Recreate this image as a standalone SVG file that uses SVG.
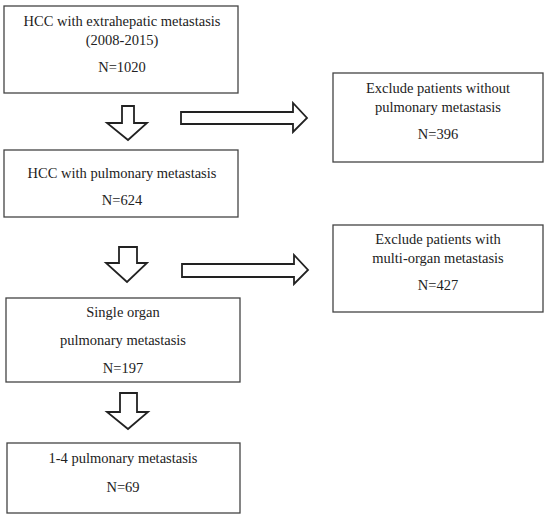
<svg xmlns="http://www.w3.org/2000/svg" width="554" height="530" viewBox="0 0 554 530">
<style>
.box{fill:#fff;stroke:#444;stroke-width:1.3}
.arr{fill:#fff;stroke:#222;stroke-width:1.8;stroke-linejoin:miter}
text{font-family:"Liberation Serif","Times New Roman",serif;font-size:14.5px;fill:#222;text-anchor:middle}
</style>
<rect width="554" height="530" fill="#fff"/>
<g id="connectors">
<path class="arr" d="M122,106 H134 V123 H147 L128,140 L107,123 H122 Z"/>
<path class="arr" d="M181,112 H293 V103 L307,118 L293,132 V124 H181 Z"/>
<path class="arr" d="M119,247 H137 V263 H147 L127,282 L106,263 H119 Z"/>
<path class="arr" d="M182,264 H294 V255 L308,270 L294,284 V277 H182 Z"/>
<path class="arr" d="M120,393 H137 V412 H148 L128,429 L107,412 H120 Z"/>
</g>
<g id="n1">
<rect class="box" x="4" y="6" width="234" height="87"/>
<text x="122" y="26">HCC with extrahepatic metastasis</text>
<text x="122" y="45">(2008-2015)</text>
<text x="122" y="72">N=1020</text>
</g>
<g id="n2">
<rect class="box" x="4" y="150" width="234" height="67"/>
<text x="122" y="178">HCC with pulmonary metastasis</text>
<text x="122" y="205">N=624</text>
</g>
<g id="n3">
<rect class="box" x="333" y="73" width="210" height="89"/>
<text x="438" y="93">Exclude patients without</text>
<text x="438" y="112">pulmonary metastasis</text>
<text x="438" y="139">N=396</text>
</g>
<g id="n4">
<rect class="box" x="333" y="225" width="210" height="87"/>
<text x="438" y="244">Exclude patients with</text>
<text x="438" y="263">multi-organ metastasis</text>
<text x="438" y="290">N=427</text>
</g>
<g id="n5">
<rect class="box" x="6" y="298" width="234" height="84"/>
<text x="123" y="317">Single organ</text>
<text x="123" y="345">pulmonary metastasis</text>
<text x="123" y="373">N=197</text>
</g>
<g id="n6">
<rect class="box" x="7" y="443" width="233" height="70"/>
<text x="123" y="463">1-4 pulmonary metastasis</text>
<text x="123" y="492">N=69</text>
</g>
</svg>
